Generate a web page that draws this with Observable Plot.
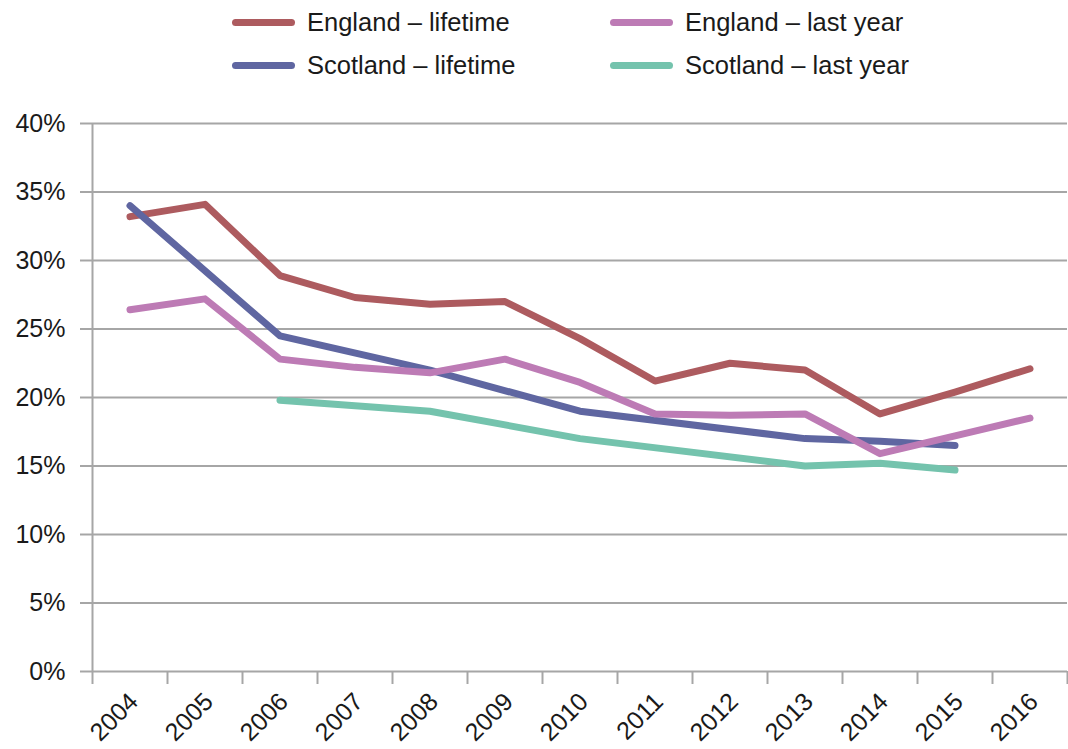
<!DOCTYPE html>
<html><head><meta charset="utf-8">
<script src="https://cdn.jsdelivr.net/npm/d3@7"></script>
<script src="https://cdn.jsdelivr.net/npm/@observablehq/plot@0.6"></script>
<style>
body{margin:0;background:#fff;font-family:"Liberation Sans",Arial,sans-serif;}
#legend{position:relative;width:1068px;height:100px;}
.item{position:absolute;display:flex;align-items:center;height:30px;font-size:25.5px;color:#1a1a1a;white-space:nowrap;}
.sw{width:63px;height:7px;border-radius:4px;margin-right:12px;}
</style></head><body>
<div id="legend"></div><div id="chart"></div>
<script>
const years = [2004, 2005, 2006, 2007, 2008, 2009, 2010, 2011, 2012, 2013, 2014, 2015, 2016];
const englandLifetime = [33.2, 34.1, 28.9, 27.3, 26.8, 27.0, 24.3, 21.2, 22.5, 22.0, 18.8, 20.4, 22.1];
const englandLastYear = [26.4, 27.2, 22.8, 22.2, 21.8, 22.8, 21.1, 18.8, 18.7, 18.8, 15.9, 17.2, 18.5];
const scotlandLifetime = [34.0, null, 24.5, null, 22.0, null, 19.0, null, null, 17.0, 16.8, 16.5, null];
const scotlandLastYear = [null, null, 19.8, null, 19.0, null, 17.0, null, null, 15.0, 15.2, 14.7, null];
const yTicks = [0, 5, 10, 15, 20, 25, 30, 35, 40];
const seriesNames = ["England – lifetime", "Scotland – lifetime", "England – last year", "Scotland – last year"];
const seriesColors = ["#ad5b5f", "#5f66a1", "#bd7bb5", "#74c3ad"];
const seriesValues = [englandLifetime, scotlandLifetime, englandLastYear, scotlandLastYear];

// legend (row-major: England lifetime, England last year / Scotland lifetime, Scotland last year)
const legendSlots = [
  {i: 0, left: 232, top: 7}, {i: 2, left: 610, top: 7},
  {i: 1, left: 232, top: 50}, {i: 3, left: 610, top: 50}
];
const legend = document.getElementById("legend");
legendSlots.forEach(s => {
  const d = document.createElement("div");
  d.className = "item";
  d.style.left = s.left + "px";
  d.style.top = s.top + "px";
  const sw = document.createElement("span");
  sw.className = "sw";
  sw.style.background = seriesColors[s.i];
  const t = document.createElement("span");
  t.textContent = seriesNames[s.i];
  d.appendChild(sw); d.appendChild(t);
  legend.appendChild(d);
});

const data = [];
seriesValues.forEach((vals, si) => vals.forEach((v, i) => {
  if (v != null) data.push({year: years[i], value: v, series: seriesNames[si]});
}));
const boundaries = d3.range(years.length + 1).map(i => years[0] - 0.5 + i);
const grid = "#a6a6a6";

const chart = Plot.plot({
  width: 1068, height: 649,
  marginLeft: 92, marginRight: 1, marginTop: 23, marginBottom: 78,
  style: {fontFamily: "'Liberation Sans', Arial, sans-serif", fontSize: "25px", color: "#1a1a1a", background: "#fff"},
  x: {domain: [boundaries[0], boundaries[boundaries.length - 1]]},
  y: {domain: [0, 40]},
  color: {domain: seriesNames, range: seriesColors},
  marks: [
    Plot.ruleY(yTicks, {y: d => d, stroke: grid, strokeWidth: 2}),
    Plot.axisY(yTicks, {tickSize: 12, tickPadding: 15, tickFormat: d => d + "%", stroke: grid, strokeWidth: 2, fill: "#1a1a1a", fontSize: 25, label: null}),
    Plot.ruleX([boundaries[0]], {x: d => d, stroke: grid, strokeWidth: 2}),
    Plot.axisX(boundaries, {tickSize: 13, tickFormat: () => "", stroke: grid, strokeWidth: 2, label: null}),
    Plot.text(years, {x: d => d, text: d => String(d), frameAnchor: "bottom", rotate: -45, textAnchor: "end", lineAnchor: "middle", dx: 4, dy: 26, fill: "#1a1a1a", fontSize: 25}),
    Plot.line(data, {x: "year", y: "value", z: "series", stroke: "series", strokeWidth: 7, strokeLinecap: "round", strokeLinejoin: "round"})
  ]
});
document.getElementById("chart").appendChild(chart);
</script>
</body></html>
